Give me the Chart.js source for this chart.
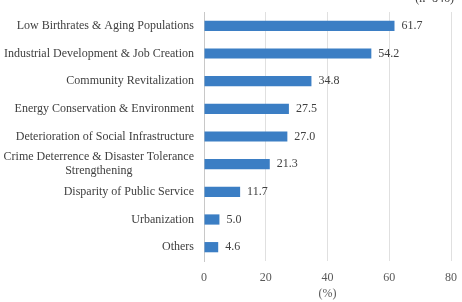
<!DOCTYPE html>
<html>
<head>
<meta charset="utf-8">
<script src="https://cdn.jsdelivr.net/npm/chart.js@4/dist/chart.umd.min.js"></script>
<style>
  html, body { margin: 0; padding: 0; background: #fff; }
  #chart { display: block; }
</style>
</head>
<body>
<canvas id="chart" width="462" height="302"></canvas>
<script>
const categories = [
    'Low Birthrates & Aging Populations',
    'Industrial Development & Job Creation',
    'Community Revitalization',
    'Energy Conservation & Environment',
    'Deterioration of Social Infrastructure',
    ['Crime Deterrence & Disaster Tolerance', 'Strengthening'],
    'Disparity of Public Service',
    'Urbanization',
    'Others'
];
const percentages = [61.7, 54.2, 34.8, 27.5, 27.0, 21.3, 11.7, 5.0, 4.6];
const xTicks = [0, 20, 40, 60, 80];
const sampleNote = '(n=846)';
const axisTitle = '(%)';

const FONT = '"Liberation Serif", "Times New Roman", serif';
const TEXT = '#404040';

// draws category labels (multi-line centred as a block), value labels and the note
const labelPlugin = {
    id: 'labels',
    afterDraw: function (chart) {
        const ctx = chart.ctx;
        const yScale = chart.scales.y;
        const meta = chart.getDatasetMeta(0);
        ctx.save();
        ctx.font = '12px ' + FONT;
        ctx.fillStyle = TEXT;
        ctx.textBaseline = 'middle';

        // category labels
        const rightEdge = chart.chartArea.left - 10;
        categories.forEach(function (lab, i) {
            const lines = Array.isArray(lab) ? lab : [lab];
            const yc = yScale.getPixelForValue(i);
            const lineH = 14;
            let maxW = 0;
            lines.forEach(function (l) { maxW = Math.max(maxW, ctx.measureText(l).width); });
            const cx = rightEdge - maxW / 2;
            ctx.textAlign = 'center';
            lines.forEach(function (l, j) {
                const y = yc + (j - (lines.length - 1) / 2) * lineH;
                ctx.fillText(l, cx, y);
            });
        });

        // value labels
        ctx.textAlign = 'left';
        meta.data.forEach(function (bar, i) {
            ctx.fillText(percentages[i].toFixed(1), bar.x + 7, bar.y);
        });

        // sample size note, cut off at the top
        ctx.textAlign = 'right';
        ctx.textBaseline = 'bottom';
        ctx.fillText(sampleNote, 454, 5);
        ctx.restore();
    }
};

new Chart(document.getElementById('chart').getContext('2d'), {
    type: 'bar',
    data: {
        labels: categories,
        datasets: [{
            data: percentages,
            backgroundColor: '#3b7ec4',
            categoryPercentage: 1,
            barPercentage: 0.37
        }]
    },
    options: {
        indexAxis: 'y',
        responsive: false,
        animation: false,
        layout: { padding: { top: 12, right: 11, left: 0, bottom: 0 } },
        plugins: {
            legend: { display: false },
            tooltip: { enabled: false }
        },
        scales: {
            x: {
                min: 0,
                max: 80,
                afterBuildTicks: function (axis) {
                    axis.ticks = xTicks.map(function (v) { return { value: v }; });
                },
                afterFit: function (axis) {
                    axis.height = 41;
                    axis.paddingLeft = 0;
                    axis.paddingRight = 0;
                },
                grid: { color: '#e0e0e0', drawTicks: false },
                border: { display: false },
                ticks: {
                    padding: 10,
                    color: '#595959',
                    font: { family: FONT, size: 12 }
                },
                title: {
                    display: true,
                    text: axisTitle,
                    color: '#595959',
                    font: { family: FONT, size: 12 },
                    padding: { top: 2, bottom: 1 }
                }
            },
            y: {
                grid: { display: false, drawTicks: false },
                border: { display: true, color: '#c8c8c8' },
                afterFit: function (axis) { axis.width = 204; },
                ticks: { display: false }
            }
        }
    },
    plugins: [labelPlugin]
});
</script>
</body>
</html>
